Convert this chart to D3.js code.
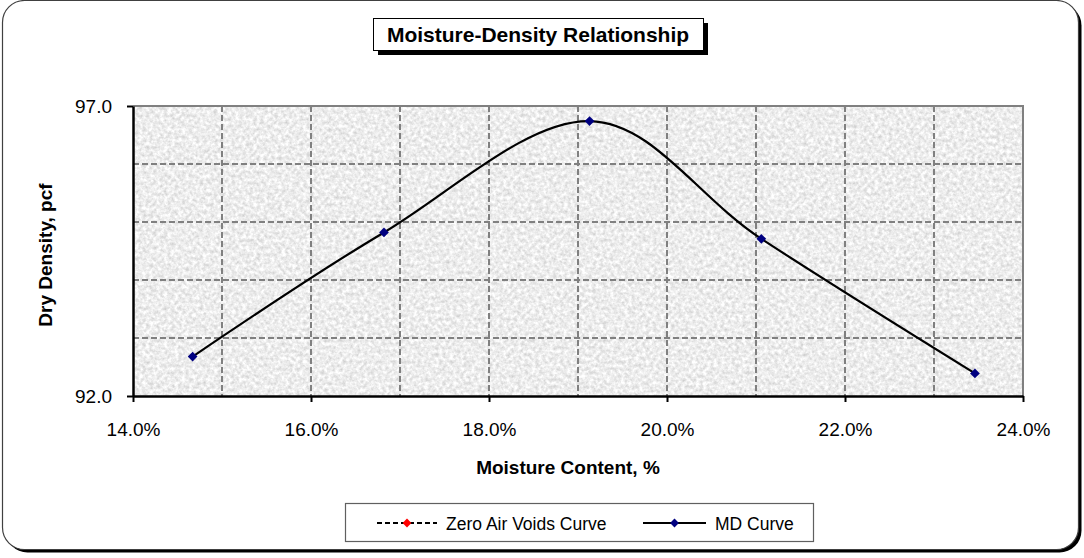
<!DOCTYPE html>
<html>
<head>
<meta charset="utf-8">
<script src="https://cdn.jsdelivr.net/npm/d3@7"></script>
<style>
  html, body { margin: 0; padding: 0; background: #fff; }
  svg { display: block; font-family: "Liberation Sans", Arial, sans-serif; }
</style>
</head>
<body>
<svg id="chart" width="1084" height="558"></svg>
<script>
// values
const moisture = [0.1467, 0.1682, 0.1913, 0.2106, 0.2346];
const density = [92.68, 94.82, 96.74, 94.71, 92.39];
const zavMoisture = [];
const zavDensity = [];
const xMajorTicks = [0.14, 0.16, 0.18, 0.20, 0.22, 0.24];
const xMinorTicks = [0.15, 0.16, 0.17, 0.18, 0.19, 0.20, 0.21, 0.22, 0.23];
const yMajorTicks = [92, 97];
const yMinorTicks = [93, 94, 95, 96];
const seriesNames = ["Zero Air Voids Curve", "MD Curve"];

const PLOT = { left: 133, right: 1023, top: 106, bottom: 396 };
const GRID = "#808080";

const svg = d3.select("#chart");
const defs = svg.append("defs");

// granite-like plot background
const tex = defs.append("filter")
  .attr("id", "granite")
  .attr("x", 0).attr("y", 0).attr("width", 1).attr("height", 1)
  .attr("color-interpolation-filters", "sRGB");
tex.append("feTurbulence")
  .attr("type", "fractalNoise")
  .attr("baseFrequency", 0.28)
  .attr("numOctaves", 3)
  .attr("seed", 7)
  .attr("result", "noise");
tex.append("feColorMatrix")
  .attr("in", "noise")
  .attr("type", "matrix")
  .attr("values", "0.3 0 0 0 0.78  0.3 0 0 0 0.78  0.3 0 0 0 0.78  0 0 0 0 1")
  .attr("result", "gray");
tex.append("feComposite")
  .attr("in", "gray").attr("in2", "SourceAlpha").attr("operator", "in");

// outer frame with shadow
svg.append("rect")
  .attr("x", 5.5).attr("y", 3.5).attr("width", 1076).attr("height", 549)
  .attr("rx", 22).attr("fill", "#000");
svg.append("rect")
  .attr("x", 2.5).attr("y", 0.5).attr("width", 1076).attr("height", 549)
  .attr("rx", 22).attr("fill", "#fff").attr("stroke", "#404040").attr("stroke-width", 1.2);

const x = d3.scaleLinear().domain([0.14, 0.24]).range([PLOT.left, PLOT.right]);
const y = d3.scaleLinear().domain([92, 97]).range([PLOT.bottom, PLOT.top]);

// plot area
svg.append("rect")
  .attr("x", PLOT.left).attr("y", PLOT.top)
  .attr("width", PLOT.right - PLOT.left).attr("height", PLOT.bottom - PLOT.top)
  .attr("fill", "#e9e9e9")
  .attr("filter", "url(#granite)");

const grid = svg.append("g").attr("stroke", GRID).attr("stroke-width", 2).attr("stroke-dasharray", "6,3");
grid.selectAll(".vgrid").data(xMinorTicks).join("line")
  .attr("x1", (d) => x(d)).attr("x2", (d) => x(d))
  .attr("y1", PLOT.top).attr("y2", PLOT.bottom);
grid.selectAll(".hgrid").data(yMinorTicks).join("line")
  .attr("x1", PLOT.left).attr("x2", PLOT.right)
  .attr("y1", (d) => y(d)).attr("y2", (d) => y(d));

// gray top and right border
svg.append("path")
  .attr("d", `M${PLOT.left},${PLOT.top}H${PLOT.right}V${PLOT.bottom}`)
  .attr("fill", "none").attr("stroke", GRID).attr("stroke-width", 2);

// axes
const xAxis = svg.append("g")
  .attr("transform", `translate(0,${PLOT.bottom})`)
  .call(d3.axisBottom(x).tickValues(xMajorTicks).tickFormat(d3.format(".1%")).tickSize(6).tickSizeOuter(0));
xAxis.select(".domain").attr("stroke", "#000").attr("stroke-width", 2.5);
xAxis.selectAll(".tick line").attr("stroke", "#000").attr("stroke-width", 2);
xAxis.selectAll(".tick text")
  .attr("font-family", "Liberation Sans, Arial, sans-serif")
  .attr("font-size", 19).attr("fill", "#000").attr("dy", null).attr("y", 40);

const yAxis = svg.append("g")
  .attr("transform", `translate(${PLOT.left},0)`)
  .call(d3.axisLeft(y).tickValues(yMajorTicks).tickFormat(d3.format(".1f")).tickSize(6).tickSizeOuter(0));
yAxis.select(".domain").attr("stroke", "#000").attr("stroke-width", 2.5);
yAxis.selectAll(".tick line").attr("stroke", "#000").attr("stroke-width", 2);
yAxis.selectAll(".tick text")
  .attr("font-family", "Liberation Sans, Arial, sans-serif")
  .attr("font-size", 19).attr("fill", "#000").attr("x", -21).attr("dy", "0.36em");

// MD curve
const mdData = moisture.map((m, i) => ({ m, d: density[i] }));
const line = d3.line()
  .x((p) => x(p.m))
  .y((p) => y(p.d))
  .curve(d3.curveCardinal.tension(0));
svg.append("path")
  .datum(mdData)
  .attr("d", line)
  .attr("fill", "none").attr("stroke", "#000").attr("stroke-width", 2.2);

const diamond = d3.symbol().type(d3.symbolDiamond2).size(60);
svg.selectAll(".md-point").data(mdData).join("path")
  .attr("class", "md-point")
  .attr("transform", (p) => `translate(${x(p.m)},${y(p.d)})`)
  .attr("d", diamond).attr("fill", "#000080");

// zero air voids curve (no points in this chart)
const zavData = zavMoisture.map((m, i) => ({ m, d: zavDensity[i] }));
svg.append("path").datum(zavData)
  .attr("d", zavData.length ? line(zavData) : null)
  .attr("fill", "none").attr("stroke", "#000").attr("stroke-dasharray", "4,3");

// axis titles
svg.append("text")
  .attr("transform", "translate(52,255) rotate(-90)")
  .attr("text-anchor", "middle").attr("font-weight", "bold").attr("font-size", 19)
  .text("Dry Density, pcf");
svg.append("text")
  .attr("x", 568).attr("y", 474)
  .attr("text-anchor", "middle").attr("font-weight", "bold").attr("font-size", 19)
  .text("Moisture Content, %");

// title box
svg.append("rect").attr("x", 378).attr("y", 23).attr("width", 330).attr("height", 32).attr("fill", "#000");
svg.append("rect").attr("x", 373.5).attr("y", 18.5).attr("width", 330).attr("height", 32)
  .attr("fill", "#fff").attr("stroke", "#000").attr("stroke-width", 1);
svg.append("text")
  .attr("x", 538).attr("y", 42)
  .attr("text-anchor", "middle").attr("font-weight", "bold").attr("font-size", 21)
  .text("Moisture-Density Relationship");

// legend
const legend = svg.append("g");
legend.append("rect").attr("x", 345.5).attr("y", 503.5).attr("width", 468).attr("height", 38)
  .attr("fill", "#fff").attr("stroke", "#606060").attr("stroke-width", 1.2);
const legendItems = [
  { name: seriesNames[0], x0: 377, x1: 437, dash: "5,3", fill: "#ff0000" },
  { name: seriesNames[1], x0: 643, x1: 706, dash: null, fill: "#000080" }
];
const li = legend.selectAll(".item").data(legendItems).join("g");
li.append("line")
  .attr("x1", (d) => d.x0).attr("x2", (d) => d.x1).attr("y1", 523).attr("y2", 523)
  .attr("stroke", "#000").attr("stroke-width", 2).attr("stroke-dasharray", (d) => d.dash);
li.append("path")
  .attr("transform", (d) => `translate(${(d.x0 + d.x1) / 2},523)`)
  .attr("d", d3.symbol().type(d3.symbolDiamond2).size(50)).attr("fill", (d) => d.fill);
li.append("text")
  .attr("x", (d) => d.x1 + 9).attr("y", 529.5)
  .attr("font-size", 17.5).attr("fill", "#000")
  .text((d) => d.name);
</script>
</body>
</html>
